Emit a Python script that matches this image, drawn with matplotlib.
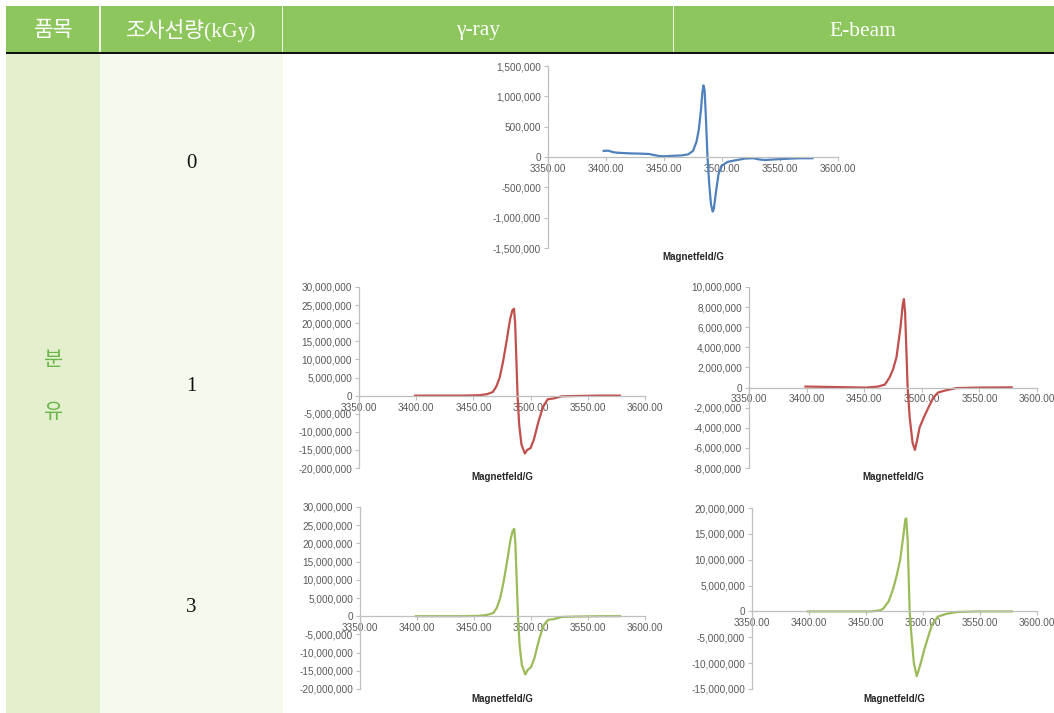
import matplotlib
matplotlib.use("Agg")
import matplotlib.pyplot as plt
from matplotlib.patches import Rectangle
from matplotlib.ticker import FuncFormatter, MultipleLocator

W, H = 1054, 713

# ---------------- data ----------------
header_labels = ["품목", "조사선량(kGy)", "γ-ray", "E-beam"]
item_labels = ["분", "유"]
dose_labels = ["0", "1", "3"]
x_title = "Magnetfeld/G"

# row 0 (0 kGy), blue
x0 = [3398, 3402, 3406, 3410, 3420, 3430, 3437, 3442, 3446, 3450, 3458, 3465, 3471, 3475,
      3478, 3480, 3482, 3483, 3484, 3485, 3486, 3487.5, 3489, 3490.5, 3492, 3493, 3495,
      3497, 3500, 3505, 3510, 3520, 3527, 3532, 3537, 3545, 3555, 3565, 3578]
y0 = [100000, 105000, 80000, 70000, 60000, 55000, 50000, 30000, 15000, 12000, 20000, 25000,
      45000, 100000, 250000, 450000, 800000, 1050000, 1180000, 1100000, 700000, 0, -450000,
      -780000, -900000, -850000, -550000, -280000, -140000, -80000, -60000, -25000, -20000,
      -40000, -50000, -40000, -30000, -22000, -20000]

# row 1 (1 kGy), gamma, red
x1g = [3399, 3420, 3440, 3455, 3462, 3467, 3470, 3473, 3476, 3479, 3482, 3484, 3485.5,
       3486.5, 3488.6, 3490, 3492, 3495, 3497, 3500, 3503, 3507, 3511, 3515, 3520, 3527,
       3540, 3560, 3578]
y1g = [0, 0, 0, 100000, 400000, 1000000, 2500000, 5000000, 9500000, 15000000, 21000000,
       23500000, 24000000, 20000000, 0, -8000000, -13500000, -16000000, -15000000,
       -14500000, -12000000, -7000000, -3000000, -1000000, -800000, -200000, -100000, 0, 0]

# row 1 (1 kGy), E-beam, red
x1e = [3399, 3420, 3440, 3452, 3462, 3468, 3472, 3475, 3478, 3481.5, 3483.5, 3484.5,
       3485.5, 3487.7, 3489.5, 3492, 3494, 3496, 3498, 3502, 3505.7, 3510, 3514, 3520,
       3530, 3550, 3578]
y1e = [100000, 60000, 20000, 0, 100000, 300000, 1000000, 1800000, 3000000, 6000000,
       8300000, 8800000, 7500000, 0, -3000000, -5500000, -6200000, -5200000, -4000000,
       -2900000, -2000000, -1000000, -500000, -300000, -50000, 0, 20000]

# row 2 (3 kGy), gamma, green
x3g = [3399, 3420, 3440, 3455, 3462, 3467, 3470, 3473, 3476, 3479, 3482, 3484, 3485.3,
       3486.3, 3488.6, 3490, 3492, 3495, 3497, 3500, 3503, 3507, 3511, 3515, 3520, 3527,
       3540, 3560, 3578]
y3g = [0, 0, 0, 100000, 400000, 900000, 2300000, 5000000, 9500000, 15000000, 21000000,
       23500000, 24000000, 20000000, 0, -8000000, -13500000, -16000000, -14800000,
       -14000000, -11500000, -6500000, -2500000, -1000000, -800000, -200000, -100000, 0, 0]

# row 2 (3 kGy), E-beam, green
x3e = [3399, 3420, 3440, 3455, 3462, 3465, 3470, 3474, 3477, 3480, 3483, 3484.5, 3485.3,
       3486.5, 3488.3, 3490, 3492, 3494.5, 3496, 3498, 3501, 3504.4, 3508, 3513, 3520,
       3530, 3550, 3578]
y3e = [0, 0, 0, 0, 200000, 500000, 2000000, 4500000, 7000000, 10000000, 15000000,
       17800000, 18000000, 14000000, 0, -5000000, -10000000, -12500000, -11500000,
       -10000000, -7500000, -5000000, -2500000, -1000000, -500000, -100000, 0, 0]

x_ticks = [3350, 3400, 3450, 3500, 3550, 3600]

# ---------------- figure ----------------
fig = plt.figure(figsize=(W / 100, H / 100), dpi=100)
fig.patch.set_facecolor("white")


def frect(x0p, y0p, x1p, y1p, color, z=0):
    fig.patches.append(Rectangle((x0p / W, 1 - y1p / H), (x1p - x0p) / W, (y1p - y0p) / H,
                                 transform=fig.transFigure, facecolor=color,
                                 edgecolor="none", zorder=z))


HEAD_GREEN = "#8cc65c"
frect(6, 6, W, 52.5, HEAD_GREEN)
frect(6, 52.5, 100, 713, "#e4efcd")
frect(100, 52.5, 283, 713, "#f5f9ee")
for sx in [100, 282.5, 673.3]:
    frect(sx - 0.8, 6, sx + 0.8, 52.5, "#f2f8ea", z=1)
frect(6, 52, W, 54, "#111111", z=2)

head_family = ["Liberation Serif", "Noto Sans CJK KR", "DejaVu Serif"]
header_x = [54, 191, 478, 863]
for hx, lab in zip(header_x, header_labels):
    fig.text(hx / W, 1 - 31 / H, lab, ha="center", va="center", color="white",
             fontsize=15.5, family=head_family, fontweight="light")

for iy, lab in zip([360, 412], item_labels):
    fig.text(54 / W, 1 - iy / H, lab, ha="center", va="center", color="#6ab64a",
             fontsize=15, family=["Noto Sans CJK KR", "DejaVu Sans"], fontweight="light")

for dy, lab in zip([163, 386, 607], dose_labels):
    fig.text(191 / W, 1 - dy / H, lab, ha="center", va="center", color="#111111",
             fontsize=15, family=["Liberation Serif", "DejaVu Serif"])

tick_fmt_y = FuncFormatter(lambda v, p: f"{int(round(v)):,}")
tick_fmt_x = FuncFormatter(lambda v, p: f"{v:.2f}")


def chart(px0, py0, px1, py1, xs, ys, color, ymin, ymax, ystep):
    ax = fig.add_axes([px0 / W, 1 - py1 / H, (px1 - px0) / W, (py1 - py0) / H])
    ax.set_facecolor("none")
    ax.plot(xs, ys, color=color, lw=1.6, solid_joinstyle="round")
    ax.set_xlim(3350, 3600)
    ax.set_ylim(ymin, ymax)
    ax.yaxis.set_major_locator(MultipleLocator(ystep))
    ax.set_xticks(x_ticks)
    ax.yaxis.set_major_formatter(tick_fmt_y)
    ax.xaxis.set_major_formatter(tick_fmt_x)
    for s in ["top", "right"]:
        ax.spines[s].set_visible(False)
    ax.spines["bottom"].set_position(("data", 0))
    for s in ["left", "bottom"]:
        ax.spines[s].set_color("#bfbfbf")
        ax.spines[s].set_linewidth(0.9)
    ax.tick_params(axis="both", colors="#bfbfbf", length=3, width=0.8,
                   labelsize=7.2, labelcolor="#595959", pad=2)
    for lab in ax.get_xticklabels() + ax.get_yticklabels():
        lab.set_family(["Liberation Sans", "DejaVu Sans"])
    hpx = py1 - py0
    ax.text(0.5, -9.5 / hpx, x_title, transform=ax.transAxes, ha="center", va="center",
            fontsize=7, fontweight="bold", color="#262626",
            family=["Liberation Sans", "DejaVu Sans"])
    return ax


chart(548, 66, 838, 248, x0, y0, "#4f81bd", -1500000, 1500000, 500000)
chart(359, 287, 645, 468, x1g, y1g, "#c0504d", -20000000, 30000000, 5000000)
chart(749, 287, 1037, 468, x1e, y1e, "#c0504d", -8000000, 10000000, 2000000)
chart(360, 507, 645, 689, x3g, y3g, "#9bbb59", -20000000, 30000000, 5000000)
chart(752, 508, 1037, 689, x3e, y3e, "#9bbb59", -15000000, 20000000, 5000000)

fig.savefig("out.png", dpi=100, facecolor="white")
